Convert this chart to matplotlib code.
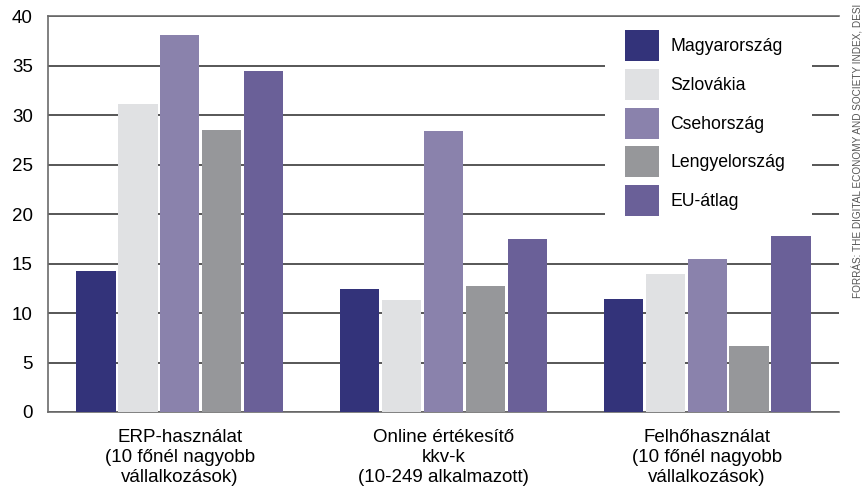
import matplotlib
matplotlib.use("Agg")
import matplotlib.pyplot as plt
from matplotlib.patches import Rectangle
import numpy as np

plt.rcParams['font.family'] = ['Liberation Sans', 'DejaVu Sans']

categories = ["ERP-használat\n(10 főnél nagyobb\nvállalkozások)",
              "Online értékesítő\nkkv-k\n(10-249 alkalmazott)",
              "Felhőhasználat\n(10 főnél nagyobb\nvállalkozások)"]
series_names = ["Magyarország", "Szlovákia", "Csehország", "Lengyelország", "EU-átlag"]
hungary = [14.2, 12.4, 11.4]
slovakia = [31.1, 11.3, 13.9]
czechia = [38.1, 28.4, 15.5]
poland = [28.5, 12.7, 6.7]
eu_avg = [34.4, 17.5, 17.8]
colors = ["#33337A", "#E0E1E3", "#8A82AC", "#96979A", "#6A6098"]
yticks = [0, 5, 10, 15, 20, 25, 30, 35, 40]
source = "FORRÁS: THE DIGITAL ECONOMY AND SOCIETY INDEX, DESI"

W, H = 868, 498
fig = plt.figure(figsize=(W / 100, H / 100), dpi=100)
ax_l, ax_r, ax_t, ax_b = 48, 839, 16, 412
ax = fig.add_axes([ax_l / W, 1 - ax_b / H, (ax_r - ax_l) / W, (ax_b - ax_t) / H])

x = np.arange(len(categories))
slot = 0.159
width = 0.149
data = [hungary, slovakia, czechia, poland, eu_avg]
for i, (vals, c, name) in enumerate(zip(data, colors, series_names)):
    ax.bar(x + (i - 2) * slot, vals, width=width, color=c, label=name, zorder=3)

ax.set_xlim(-0.5, 2.5)
ax.set_ylim(0, 40)
ax.set_yticks(yticks)
ax.set_yticklabels([str(t) for t in yticks], fontsize=13.5)
ax.set_xticks(x)
ax.set_xticklabels(categories, fontsize=13.5, linespacing=1.25)
ax.tick_params(axis='both', length=0)
ax.tick_params(axis='y', pad=11)
ax.tick_params(axis='x', pad=12)
ax.yaxis.grid(True, color="#3a3a3a", linewidth=1.2, zorder=0)
ax.set_axisbelow(True)
ax.spines['right'].set_visible(False)
for s in ['left', 'top', 'bottom']:
    ax.spines[s].set_color("#6b6b6b")
    ax.spines[s].set_linewidth(1.2)

def ax_frac(px, py):
    return ((px - ax_l) / (ax_r - ax_l), (ax_b - py) / (ax_b - ax_t))

# white box behind legend (covers gridlines)
bx0, by0 = ax_frac(605, 226)
bx1, by1 = ax_frac(812, 17)
ax.add_patch(Rectangle((bx0, by0), bx1 - bx0, by1 - by0, transform=ax.transAxes,
                       facecolor='white', edgecolor='none', zorder=2))

fs = 12.7
fpx = fs * 100 / 72
patch_h = 31
hh_px = (patch_h - 0.245 * fpx) / 0.65
lx, ly = ax_frac(625, 30)
leg = ax.legend(loc='upper left', bbox_to_anchor=(lx, ly), fontsize=fs,
                handlelength=34 / fpx, handleheight=hh_px / fpx,
                labelspacing=(38.8 - patch_h) / fpx, handletextpad=11 / fpx,
                frameon=False, borderpad=0, borderaxespad=0)
leg.set_zorder(5)

fig.text(858 / W, 1 - 298 / H, source, rotation=90, fontsize=7.2,
         color="#555555", ha='center', va='bottom')

fig.savefig("out.png", dpi=100)
